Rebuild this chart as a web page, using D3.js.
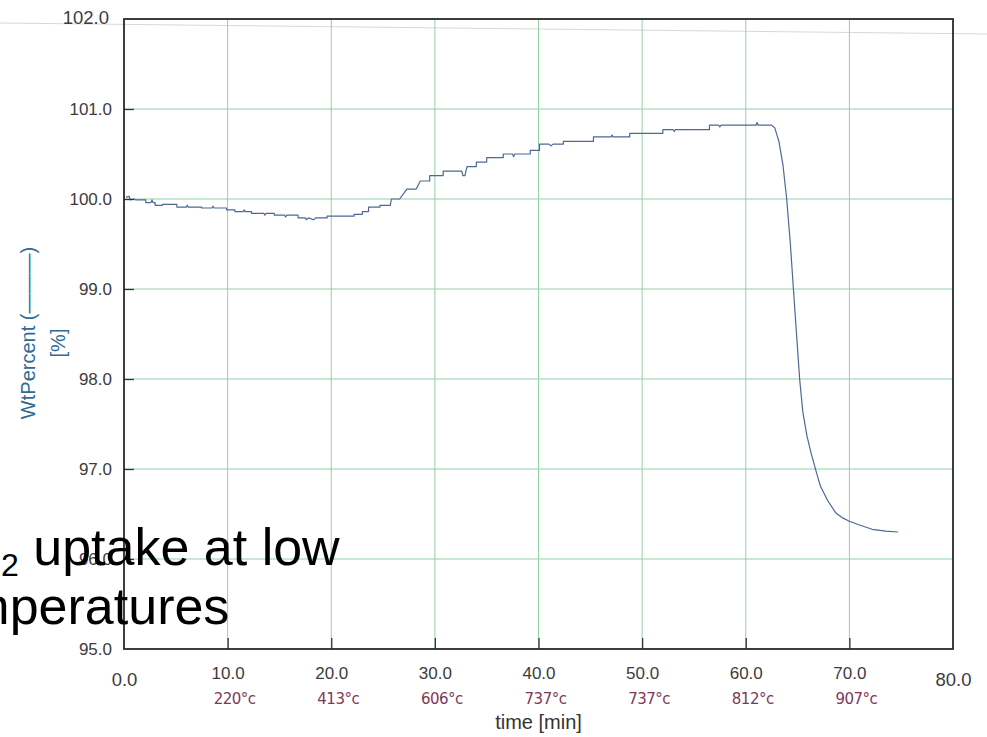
<!DOCTYPE html>
<html>
<head>
<meta charset="utf-8">
<script src="https://cdn.jsdelivr.net/npm/d3@7/dist/d3.min.js"></script>
<style>
  html, body { margin: 0; padding: 0; background: #fff; }
  svg { display: block; }
</style>
</head>
<body>
<svg id="chart" width="987" height="737"></svg>
<script>
// ---- data ----
const timeMin = [0.2,0.5,0.6,1.0,1.1,2.1,2.1,2.6,2.7,2.8,3.0,3.0,3.7,3.7,5.1,5.1,6.0,6.1,6.2,7.5,7.5,8.5,8.6,8.7,9.9,9.9,10.7,10.7,11.5,11.6,11.7,12.3,12.3,13.5,13.6,13.7,14.5,14.5,15.5,15.6,15.7,16.8,16.8,17.5,17.6,17.8,18.3,18.5,19.6,19.6,22.2,22.2,23.0,23.0,23.6,23.6,24.7,24.7,25.7,25.8,26.6,27.3,28.2,28.6,29.5,29.5,30.8,30.8,32.6,32.7,32.9,33.1,34.0,34.0,35.0,35.0,36.6,36.6,37.5,37.6,37.7,39.2,39.2,40.1,40.1,41.0,41.2,41.4,42.4,42.4,45.3,45.3,47.0,47.1,47.2,48.8,48.8,52.0,52.0,53.0,53.1,53.2,56.5,56.5,57.4,57.5,57.6,61.0,61.1,61.2,62.5,62.8,63.2,63.6,63.95,64.3,64.6,64.9,65.2,65.5,65.9,66.3,66.75,67.2,67.9,68.7,69.3,70.0,70.9,72.2,73.5,74.7];
const wtPct = [100.02,100.03,99.99,100.0,99.99,99.99,99.96,99.96,99.99,99.96,99.96,99.93,99.93,99.94,99.94,99.91,99.91,99.93,99.91,99.91,99.90,99.90,99.92,99.90,99.90,99.88,99.88,99.86,99.86,99.88,99.86,99.86,99.84,99.84,99.82,99.84,99.84,99.82,99.82,99.80,99.82,99.82,99.79,99.79,99.77,99.79,99.77,99.79,99.79,99.81,99.81,99.83,99.83,99.86,99.86,99.91,99.91,99.93,99.93,100.0,100.0,100.11,100.11,100.20,100.20,100.26,100.26,100.31,100.31,100.26,100.26,100.36,100.36,100.41,100.41,100.46,100.46,100.50,100.50,100.47,100.50,100.50,100.54,100.54,100.61,100.61,100.59,100.61,100.61,100.64,100.64,100.69,100.69,100.71,100.69,100.69,100.73,100.73,100.77,100.77,100.75,100.77,100.77,100.82,100.82,100.80,100.82,100.82,100.85,100.82,100.82,100.79,100.64,100.37,100.0,99.51,99.0,98.5,98.0,97.64,97.37,97.18,96.99,96.81,96.65,96.51,96.46,96.42,96.38,96.33,96.31,96.30];
const xTicks = [0,10,20,30,40,50,60,70,80];
const yTicks = [95,96,97,98,99,100,101,102];
const tempTicks = [10,20,30,40,50,60,70];
const tempLabels = ["220°c","413°c","606°c","737°c","737°c","812°c","907°c"];
const xTitle = "time [min]";
const yTitle = "WtPercent (";
const yUnit = "[%]";
const overlayLine1 = ["CO", "2", " uptake at low"];
const overlayLine2 = "temperatures";

// ---- drawing ----
const svg = d3.select("#chart");
const W = 987, H = 737;
const L = 124, R = 953, T = 19, B = 649;
const x = d3.scaleLinear().domain([0, 80]).range([L, R]);
const y = d3.scaleLinear().domain([95, 102]).range([B, T]);
const FONT = "'Liberation Sans', Arial, Helvetica, sans-serif";

// faint scan line across page
svg.append("line").attr("x1", 0).attr("y1", 23).attr("x2", W).attr("y2", 34)
  .attr("stroke", "#d8d8d8").attr("stroke-width", 1);

// grid
const grid = svg.append("g");
grid.selectAll("line.v").data(xTicks.filter(d => d > 0 && d < 80)).join("line")
  .attr("x1", d => x(d)).attr("x2", d => x(d)).attr("y1", T).attr("y2", B)
  .attr("stroke", "#93d0a6").attr("stroke-width", 1);
grid.selectAll("line.h").data(yTicks.filter(d => d > 95 && d < 102)).join("line")
  .attr("x1", L).attr("x2", R).attr("y1", d => y(d)).attr("y2", d => y(d))
  .attr("stroke", "#93d0a6").attr("stroke-width", 1);

// data line
const pts = timeMin.map((t, i) => [t, wtPct[i]]);
svg.append("path").datum(pts)
  .attr("fill", "none").attr("stroke", "#4d6898").attr("stroke-width", 1.2)
  .attr("stroke-linejoin", "round")
  .attr("d", d3.line().x(d => x(d[0])).y(d => y(d[1])));

// axes
const yAxis = svg.append("g").attr("transform", `translate(${L},0)`)
  .call(d3.axisLeft(y).tickValues(yTicks).tickFormat(d3.format(".1f")).tickSize(-10).tickPadding(22));
const xAxis = svg.append("g").attr("transform", `translate(0,${B})`)
  .call(d3.axisBottom(x).tickValues(xTicks).tickFormat(d3.format(".1f")).tickSize(-11).tickPadding(24));
[yAxis, xAxis].forEach(a => {
  a.select(".domain").remove();
  a.selectAll(".tick line").attr("stroke", "#333").attr("stroke-width", 1.3);
  a.selectAll(".tick text").attr("fill", "#3c3c3c").style("font-family", FONT).style("font-size", "17px");
});
yAxis.selectAll(".tick text").attr("x", -12);
xAxis.selectAll(".tick").filter(d => d === 0 || d === 80).select("line").remove();
xAxis.selectAll(".tick").filter(d => d === 0 || d === 80).select("text")
  .style("font-size", "18.5px").attr("dy", "1.05em");
yAxis.selectAll(".tick").filter(d => d === 95 || d === 102).select("line").remove();
yAxis.selectAll(".tick").filter(d => d === 102).select("text").style("font-size", "18.5px").attr("x", -15).attr("dy", "0.25em");
xAxis.selectAll(".tick text").attr("y", 18);

// frame
svg.append("rect").attr("x", L).attr("y", T).attr("width", R - L).attr("height", B - T)
  .attr("fill", "none").attr("stroke", "#2a2a2a").attr("stroke-width", 1.8);

// handwritten temperatures
svg.append("g").selectAll("text").data(tempTicks).join("text")
  .attr("x", d => x(d) + 7).attr("y", 704)
  .attr("text-anchor", "middle")
  .attr("fill", "#7d3a58")
  .style("font-family", "'DejaVu Sans', sans-serif").style("font-size", "15px")
  .style("letter-spacing", "-0.5px")
  .text((d, i) => tempLabels[i]);

// x title
svg.append("text").attr("x", x(40)).attr("y", 729).attr("text-anchor", "middle")
  .attr("fill", "#333").style("font-family", FONT).style("font-size", "20px").text(xTitle);

// y title
const yt = svg.append("g").attr("transform", "translate(35,333) rotate(-90)");
const t1 = yt.append("text").attr("text-anchor", "middle").attr("fill", "#2f6b96")
  .style("font-family", FONT).style("font-size", "20px");
t1.append("tspan").text(yTitle);
t1.append("tspan").text("———");
t1.append("tspan").text(")");
yt.append("text").attr("x", -10).attr("y", 30).attr("text-anchor", "middle").attr("fill", "#2f6b96")
  .style("font-family", FONT).style("font-size", "20px").text(yUnit);

// overlay slide text
const o1 = svg.append("text").attr("x", -77).attr("y", 565).attr("fill", "#000")
  .style("font-family", FONT).style("font-size", "52px");
o1.append("tspan").text(overlayLine1[0]);
o1.append("tspan").attr("dy", 11).style("font-size", "32px").text(overlayLine1[1]);
o1.append("tspan").attr("dy", -11).text(overlayLine1[2]);
svg.append("text").attr("x", -77).attr("y", 624).attr("fill", "#000")
  .style("font-family", FONT).style("font-size", "52px").text(overlayLine2);
</script>
</body>
</html>
